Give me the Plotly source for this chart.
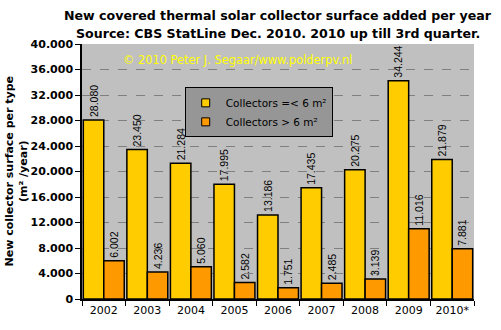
import plotly.graph_objects as go

years = ["2002", "2003", "2004", "2005", "2006", "2007", "2008", "2009", "2010*"]
small = [28080, 23450, 21284, 17995, 13186, 17435, 20275, 34244, 21879]
large = [6002, 4236, 5060, 2582, 1751, 2485, 3139, 11016, 7881]
small_labels = ["28.080", "23.450", "21.284", "17.995", "13.186", "17.435", "20.275", "34.244", "21.879"]
large_labels = ["6.002", "4.236", "5.060", "2.582", "1.751", "2.485", "3.139", "11.016", "7.881"]
name_small = "Collectors =< 6 m²"
name_large = "Collectors > 6 m²"
title1 = "New covered thermal solar collector surface added per year"
title2 = "Source: CBS StatLine Dec. 2010. 2010 up till 3rd quarter."

lab_font = dict(family="Liberation Sans Narrow, Liberation Sans, Arial", size=10.5, color="black")

fig = go.Figure()
fig.add_trace(go.Bar(x=years, y=small, text=small_labels, textposition="outside",
                     textangle=-90, textfont=lab_font, constraintext="none", cliponaxis=False,
                     marker=dict(color="#FFCC00", line=dict(color="black", width=1.5)),
                     showlegend=False, hoverinfo="skip"))
fig.add_trace(go.Bar(x=years, y=large, text=large_labels, textposition="outside",
                     textangle=-90, textfont=lab_font, constraintext="none", cliponaxis=False,
                     marker=dict(color="#FF9900", line=dict(color="black", width=1.5)),
                     showlegend=False, hoverinfo="skip"))
# legend entries
fig.add_trace(go.Scatter(x=[None], y=[None], mode="markers", name=name_small,
                         marker=dict(symbol="square", size=8, color="#FFCC00",
                                     line=dict(color="black", width=1))))
fig.add_trace(go.Scatter(x=[None], y=[None], mode="markers", name=name_large,
                         marker=dict(symbol="square", size=8, color="#FF9900",
                                     line=dict(color="black", width=1))))

fig.update_layout(
    width=501, height=330,
    margin=dict(l=82, r=27, t=44, b=31),
    paper_bgcolor="white", plot_bgcolor="#C0C0C0",
    separators=",.",
    barmode="group", bargap=0.06, bargroupgap=0,
    font=dict(family="DejaVu Sans, Verdana", size=11, color="black"),
    showlegend=True,
    legend=dict(x=0.262, y=0.83, xanchor="left", yanchor="top",
                bgcolor="#969696", bordercolor="black", borderwidth=1,
                font=dict(size=10.5, color="black"), itemwidth=30,
                tracegroupgap=0),
    xaxis=dict(type="category", showline=True, linecolor="black", linewidth=1.5,
               ticks="outside", ticklen=5, tickcolor="black", tickson="boundaries",
               tickfont=dict(size=11), showgrid=False, fixedrange=True),
    yaxis=dict(range=[0, 40000], dtick=4000, tick0=0, tickformat=",d",
               showline=True, linecolor="black", linewidth=1.5,
               ticks="outside", ticklen=5, tickcolor="black",
               tickfont=dict(size=11, family="DejaVu Sans, Verdana", weight="bold"),
               showgrid=True, gridcolor="#808080", griddash="dash", gridwidth=1,
               zeroline=False, fixedrange=True),
)

fig.add_annotation(text="<b>" + title1 + "</b>",
                   xref="paper", yref="paper", x=0.5, y=1, yshift=29, xanchor="center", yanchor="middle",
                   showarrow=False, font=dict(size=12.6, family="DejaVu Sans, Verdana"))
fig.add_annotation(text="<b>" + title2 + "</b>",
                   xref="paper", yref="paper", x=0.5, y=1, yshift=11, xanchor="center", yanchor="middle",
                   showarrow=False, font=dict(size=12.6, family="DejaVu Sans, Verdana"))
fig.add_annotation(text="© 2010 Peter J. Segaar/www.polderpv.nl",
                   xref="paper", yref="paper", x=0.1, y=1, yshift=-16, xanchor="left", yanchor="middle",
                   showarrow=False, font=dict(size=11.4, color="#FFFF00", family="DejaVu Sans, Verdana"))
fig.add_annotation(text="<b>New collector surface per type<br>(m² /year)</b>",
                   xref="paper", yref="paper", x=0, y=0.5, xshift=-66, xanchor="center", yanchor="middle",
                   textangle=-90, showarrow=False, font=dict(size=11, family="DejaVu Sans, Verdana"))

fig.write_html("out.html")
